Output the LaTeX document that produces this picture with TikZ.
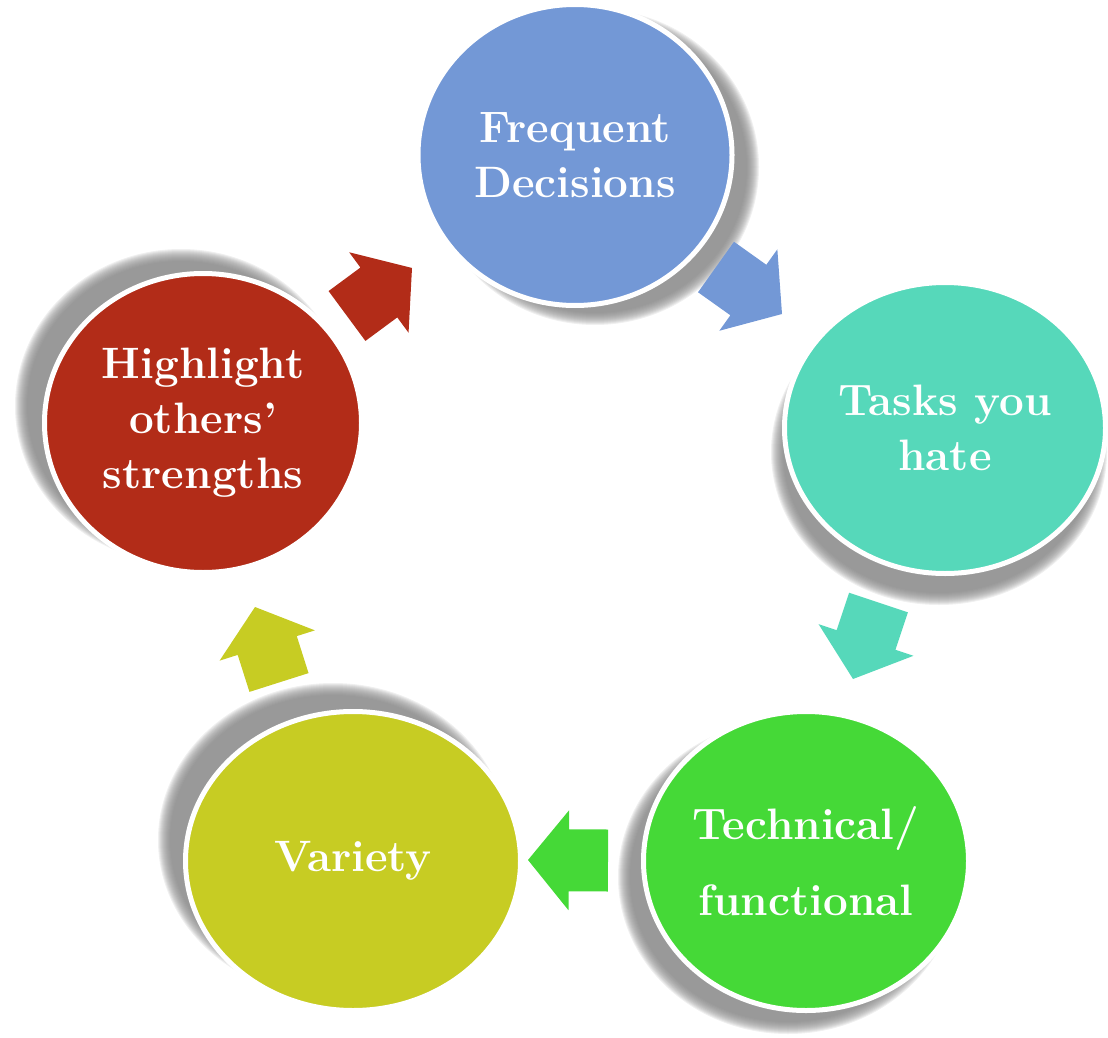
\documentclass[tikz,border=0pt]{standalone}
\usepackage{fontspec}
\usetikzlibrary{shapes.geometric,calc}

\definecolor{freqblue}{RGB}{115,152,214}
\definecolor{taskteal}{RGB}{86,216,186}
\definecolor{techgreen}{RGB}{69,217,55}
\definecolor{varyellow}{RGB}{199,204,35}
\definecolor{highred}{RGB}{178,44,24}
\definecolor{shadowgray}{RGB}{130,130,130}

\tikzset{
  bubble/.style={ellipse, draw=white, line width=5pt, fill=#1, text=white,
    inner sep=0pt, align=center, font=\fontsize{44}{55}\selectfont\bfseries},
  blurshadow/.style={fill=shadowgray, opacity=0.12},
  blockarrow/.style={fill=#1},
}

% soft shadow: centre, x radius, y radius
\newcommand{\softshadow}[3]{%
  \foreach \d in {-6,-5,...,6}
    \fill[blurshadow] (#1) ellipse [x radius={(#2+\d)*1pt}, y radius={(#3+\d)*1pt}];%
}
% block arrow from tail (#1) to tip (#2)
\newcommand{\blockarrow}[3]{%
  \fill[blockarrow=#3] ($(#1)!31pt!90:(#2)$)
    -- ($(#1)!0.49!(#2)!31pt!90:(#2)$)
    -- ($(#1)!0.49!(#2)!50pt!90:(#2)$)
    -- (#2)
    -- ($(#1)!0.49!(#2)!50pt!-90:(#2)$)
    -- ($(#1)!0.49!(#2)!31pt!-90:(#2)$)
    -- ($(#1)!31pt!-90:(#2)$) -- cycle;%
}

\begin{document}
\begin{tikzpicture}[x=1pt,y=-1pt]
    \useasboundingbox (0,0) rectangle (1108,1038);

    \coordinate (freq-c) at (575,155);
    \coordinate (tasks-c) at (945,428);
    \coordinate (tech-c) at (806,861);
    \coordinate (var-c) at (353,858);
    \coordinate (high-c) at (203,423);

    % shadows
    \softshadow{$(freq-c)+(20,12)$}{158}{152}
    \softshadow{$(tasks-c)+(-6,24)$}{162}{147}
    \softshadow{$(tech-c)+(-18,16)$}{164}{151}
    \softshadow{$(var-c)+(-20,-18)$}{169}{151}
    \softshadow{$(high-c)+(-22,-17)$}{160}{151}

    % bubbles
    \node[bubble=freqblue, minimum width=314pt, minimum height=301pt] (freq) at (freq-c) {Frequent\\Decisions};
    \node[bubble=taskteal, minimum width=321pt, minimum height=291pt] (tasks) at (tasks-c) {Tasks you\\hate};
    \node[bubble=techgreen, minimum width=325pt, minimum height=299pt] (tech) at (tech-c) {Technical/\\[21pt]functional};
    \node[bubble=varyellow, minimum width=335pt, minimum height=299pt] (var) at ($(var-c)+(0,3)$) {Variety};
    \node[bubble=highred, minimum width=317pt, minimum height=299pt] (high) at (high-c) {Highlight\\others’\\strengths};

    % arrows
    \coordinate (freq-out) at (716,267);   \coordinate (tasks-in) at (782,314);
    \coordinate (tasks-out) at (878.5,602.5); \coordinate (tech-in) at (853,679);
    \coordinate (tech-out) at (608,860.5); \coordinate (var-in) at (528,860);
    \coordinate (var-out) at (279,682.5);  \coordinate (high-in) at (255,607);
    \coordinate (high-out) at (347,316);   \coordinate (freq-in) at (412,268);

    \blockarrow{freq-out}{tasks-in}{freqblue}
    \blockarrow{tasks-out}{tech-in}{taskteal}
    \blockarrow{tech-out}{var-in}{techgreen}
    \blockarrow{var-out}{high-in}{varyellow}
    \blockarrow{high-out}{freq-in}{highred}
\end{tikzpicture}
\end{document}
